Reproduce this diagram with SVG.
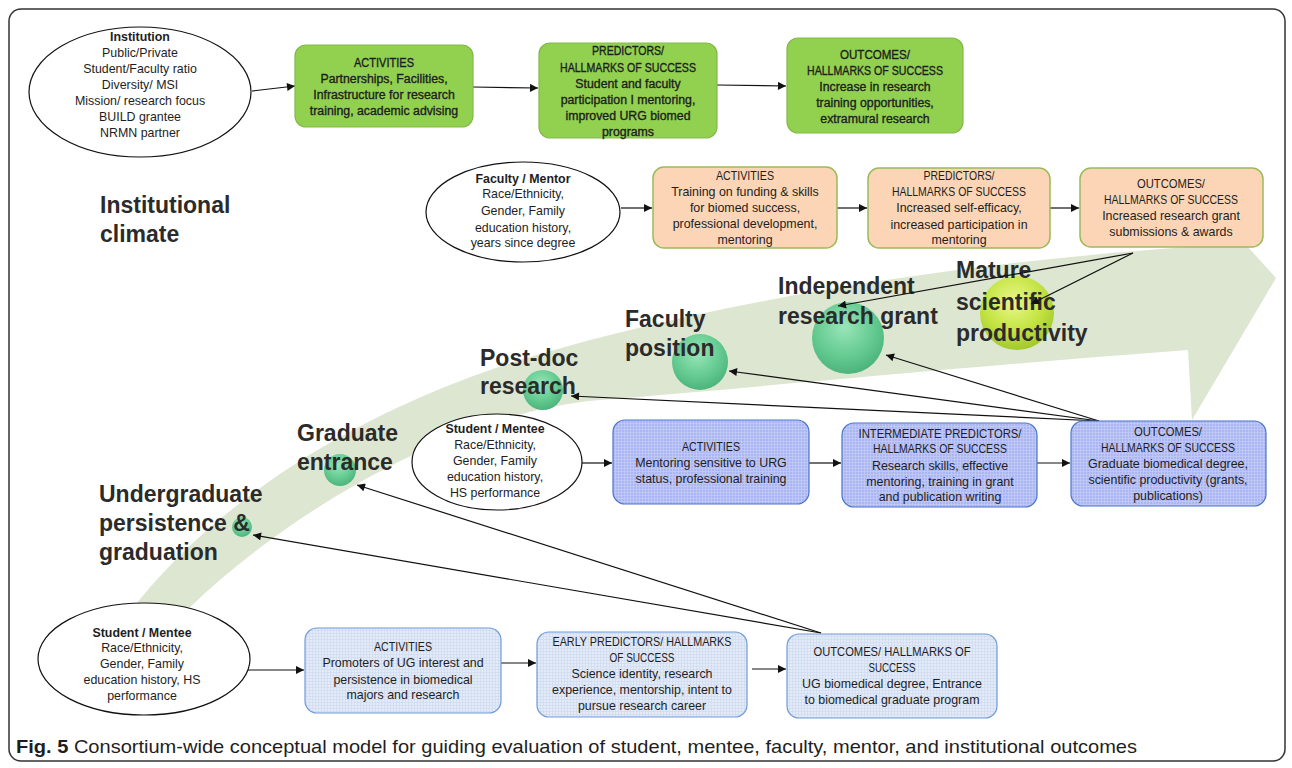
<svg xmlns="http://www.w3.org/2000/svg" width="1292" height="768" viewBox="0 0 1292 768">
<style>
text{font-family:"Liberation Sans",Arial,sans-serif;fill:#1e1e1e;}
.t{font-size:12.4px;text-anchor:middle;}
.g{font-size:12.3px;text-anchor:middle;stroke:#1e1e1e;stroke-width:0.35;}
.b{font-weight:bold;}
.big{font-size:23px;font-weight:bold;fill:#2b2b2b;}
.ell{fill:#fff;stroke:#111;stroke-width:1.2;}
.gr{fill:#92d050;stroke:#84b94a;stroke-width:1.2;}
.or{fill:#fbd5b5;stroke:#9bbb59;stroke-width:1.5;}
.bm{fill:url(#pm);stroke:#4a76c9;stroke-width:1.2;}
.bl{fill:url(#pl);stroke:#6f9bd9;stroke-width:1.2;}
.c{stroke:#111;stroke-width:1.2;fill:none;marker-end:url(#ah);}
</style>
<defs>
<marker id="ah" viewBox="0 0 10 10" refX="10" refY="5" markerWidth="9" markerHeight="8" markerUnits="userSpaceOnUse" orient="auto">
<path d="M0,0 L10,5 L0,10 z" fill="#111"/>
</marker>
<pattern id="pm" width="3" height="3" patternUnits="userSpaceOnUse">
<rect width="3" height="3" fill="#aab5f3"/>
<path d="M0,0.5 H3 M0.5,0 V3" stroke="#c3caf6" stroke-width="0.8"/>
</pattern>
<pattern id="pl" width="3" height="3" patternUnits="userSpaceOnUse">
<rect width="3" height="3" fill="#e3eaf8"/>
<path d="M0,0.5 H3 M0.5,0 V3" stroke="#d2dcf0" stroke-width="0.8"/>
</pattern>
<radialGradient id="sg" cx="45%" cy="35%" r="65%">
<stop offset="0" stop-color="#9ae5b8"/>
<stop offset="0.6" stop-color="#66cc92"/>
<stop offset="1" stop-color="#4cb47c"/>
</radialGradient>
<radialGradient id="sy" cx="45%" cy="35%" r="65%">
<stop offset="0" stop-color="#e8f88a"/>
<stop offset="0.6" stop-color="#c4e443"/>
<stop offset="1" stop-color="#a3c92c"/>
</radialGradient>
</defs>
<rect x="9" y="9" width="1276" height="752" rx="12" fill="#fff" stroke="#333" stroke-width="1.5"/>

<g id="band">
<path d="M130,612 C200,520 330,420 520,360 C700,305 950,262 1205,246 L1210,205 L1276,278 L1192,420 L1188,350 C950,368 750,388 600,400 C470,410 300,500 185,612 Z" fill="#dde6d1"/>
</g>

<g id="stages">
<circle cx="242" cy="527" r="10" fill="url(#sg)"/>
<circle cx="340" cy="470" r="16" fill="url(#sg)"/>
<circle cx="543" cy="390" r="20" fill="url(#sg)"/>
<circle cx="700" cy="362" r="28" fill="url(#sg)"/>
<circle cx="848" cy="338" r="36" fill="url(#sg)"/>
<circle cx="1017" cy="313" r="37" fill="url(#sy)"/>
<text class="big" x="99" y="502">Undergraduate</text>
<text class="big" x="99" y="531">persistence &amp;</text>
<text class="big" x="99" y="560">graduation</text>
<text class="big" x="297" y="441">Graduate</text>
<text class="big" x="297" y="470">entrance</text>
<text class="big" x="480" y="366">Post-doc</text>
<text class="big" x="480" y="394">research</text>
<text class="big" x="625" y="327">Faculty</text>
<text class="big" x="625" y="356">position</text>
<text class="big" x="778" y="294">Independent</text>
<text class="big" x="778" y="324">research grant</text>
<text class="big" x="956" y="278">Mature</text>
<text class="big" x="956" y="310">scientific</text>
<text class="big" x="956" y="341">productivity</text>
<text class="big" x="100" y="213">Institutional</text>
<text class="big" x="100" y="242">climate</text>
</g>

<g id="connectors">
<line class="c" x1="252" y1="91" x2="295" y2="86"/>
<line class="c" x1="473" y1="87" x2="538" y2="88"/>
<line class="c" x1="717" y1="85" x2="786" y2="86"/>
<line class="c" x1="621" y1="208" x2="652" y2="208"/>
<line class="c" x1="837" y1="208" x2="867" y2="208"/>
<line class="c" x1="1050" y1="208" x2="1079" y2="208"/>
<line class="c" x1="1133" y1="253" x2="838" y2="306"/>
<line class="c" x1="1133" y1="253" x2="1031" y2="304"/>
<line class="c" x1="582" y1="463" x2="612" y2="463"/>
<line class="c" x1="809" y1="463" x2="841" y2="463"/>
<line class="c" x1="1037" y1="463" x2="1070" y2="463"/>
<line class="c" x1="1099" y1="421" x2="886" y2="355"/>
<line class="c" x1="1099" y1="421" x2="729" y2="371"/>
<line class="c" x1="1099" y1="421" x2="571" y2="396"/>
<line class="c" x1="247" y1="670" x2="304" y2="670"/>
<line class="c" x1="501" y1="663" x2="536" y2="663"/>
<line class="c" x1="752" y1="669" x2="786" y2="669"/>
<line class="c" x1="821" y1="633" x2="357" y2="485"/>
<line class="c" x1="821" y1="633" x2="253" y2="535"/>
</g>

<g id="institution">
<ellipse class="ell" cx="140" cy="92" rx="111" ry="65"/>
<text class="t b" x="140" y="41">Institution</text>
<text class="t" x="140" y="57">Public/Private</text>
<text class="t" x="140" y="73">Student/Faculty ratio</text>
<text class="t" x="140" y="89">Diversity/ MSI</text>
<text class="t" x="140" y="105">Mission/ research focus</text>
<text class="t" x="140" y="121">BUILD grantee</text>
<text class="t" x="140" y="137">NRMN partner</text>
</g>
<g id="inst-activities">
<rect class="gr" x="295" y="45" width="178" height="82" rx="11"/>
<text class="g" x="384" y="67" textLength="60" lengthAdjust="spacingAndGlyphs">ACTIVITIES</text>
<text class="g" x="384" y="83">Partnerships, Facilities,</text>
<text class="g" x="384" y="99">Infrastructure for research</text>
<text class="g" x="384" y="115">training, academic advising</text>
</g>
<g id="inst-predictors">
<rect class="gr" x="539" y="43" width="178" height="95" rx="11"/>
<text class="g" x="628" y="55" textLength="72" lengthAdjust="spacingAndGlyphs">PREDICTORS/</text>
<text class="g" x="628" y="72" textLength="136" lengthAdjust="spacingAndGlyphs">HALLMARKS OF SUCCESS</text>
<text class="g" x="628" y="88">Student and faculty</text>
<text class="g" x="628" y="104">participation I mentoring,</text>
<text class="g" x="628" y="120">improved URG biomed</text>
<text class="g" x="628" y="136">programs</text>
</g>
<g id="inst-outcomes">
<rect class="gr" x="787" y="38" width="176" height="95" rx="11"/>
<text class="g" x="875" y="59" textLength="70" lengthAdjust="spacingAndGlyphs">OUTCOMES/</text>
<text class="g" x="875" y="75" textLength="136" lengthAdjust="spacingAndGlyphs">HALLMARKS OF SUCCESS</text>
<text class="g" x="875" y="91">Increase in research</text>
<text class="g" x="875" y="107">training opportunities,</text>
<text class="g" x="875" y="123">extramural research</text>
</g>

<g id="faculty">
<ellipse class="ell" cx="523" cy="212" rx="97" ry="50"/>
<text class="t b" x="523" y="183">Faculty / Mentor</text>
<text class="t" x="523" y="198">Race/Ethnicity,</text>
<text class="t" x="523" y="215">Gender, Family</text>
<text class="t" x="523" y="232">education history,</text>
<text class="t" x="523" y="247">years since degree</text>
</g>
<g id="fac-activities">
<rect class="or" x="653" y="167" width="184" height="81" rx="11"/>
<text class="t" x="745" y="180" textLength="58" lengthAdjust="spacingAndGlyphs">ACTIVITIES</text>
<text class="t" x="745" y="196">Training on funding &amp; skills</text>
<text class="t" x="745" y="212">for biomed success,</text>
<text class="t" x="745" y="228">professional development,</text>
<text class="t" x="745" y="244">mentoring</text>
</g>
<g id="fac-predictors">
<rect class="or" x="868" y="168" width="182" height="80" rx="11"/>
<text class="t" x="959" y="180" textLength="71" lengthAdjust="spacingAndGlyphs">PREDICTORS/</text>
<text class="t" x="959" y="196" textLength="134" lengthAdjust="spacingAndGlyphs">HALLMARKS OF SUCCESS</text>
<text class="t" x="959" y="212">Increased self-efficacy,</text>
<text class="t" x="959" y="229">increased participation in</text>
<text class="t" x="959" y="244">mentoring</text>
</g>
<g id="fac-outcomes">
<rect class="or" x="1080" y="168" width="183" height="79" rx="11"/>
<text class="t" x="1171" y="188" textLength="68" lengthAdjust="spacingAndGlyphs">OUTCOMES/</text>
<text class="t" x="1171" y="204" textLength="134" lengthAdjust="spacingAndGlyphs">HALLMARKS OF SUCCESS</text>
<text class="t" x="1171" y="220">Increased research grant</text>
<text class="t" x="1171" y="236">submissions &amp; awards</text>
</g>

<g id="grad-student">
<ellipse class="ell" cx="497" cy="462" rx="85" ry="48"/>
<text class="t b" x="495" y="433">Student / Mentee</text>
<text class="t" x="495" y="449">Race/Ethnicity,</text>
<text class="t" x="495" y="465">Gender, Family</text>
<text class="t" x="495" y="481">education history,</text>
<text class="t" x="495" y="497">HS performance</text>
</g>
<g id="grad-activities">
<rect class="bm" x="613" y="420" width="196" height="84" rx="12"/>
<text class="t" x="711" y="451" textLength="58" lengthAdjust="spacingAndGlyphs">ACTIVITIES</text>
<text class="t" x="711" y="467">Mentoring sensitive to URG</text>
<text class="t" x="711" y="483">status, professional training</text>
</g>
<g id="grad-predictors">
<rect class="bm" x="842" y="423" width="195" height="84" rx="12"/>
<text class="t" x="940" y="438" textLength="163" lengthAdjust="spacingAndGlyphs">INTERMEDIATE PREDICTORS/</text>
<text class="t" x="940" y="453" textLength="134" lengthAdjust="spacingAndGlyphs">HALLMARKS OF SUCCESS</text>
<text class="t" x="940" y="470">Research skills, effective</text>
<text class="t" x="940" y="486">mentoring, training in grant</text>
<text class="t" x="940" y="501">and publication writing</text>
</g>
<g id="grad-outcomes">
<rect class="bm" x="1071" y="421" width="195" height="85" rx="12"/>
<text class="t" x="1168" y="436" textLength="68" lengthAdjust="spacingAndGlyphs">OUTCOMES/</text>
<text class="t" x="1168" y="452" textLength="134" lengthAdjust="spacingAndGlyphs">HALLMARKS OF SUCCESS</text>
<text class="t" x="1168" y="468">Graduate biomedical degree,</text>
<text class="t" x="1168" y="484">scientific productivity (grants,</text>
<text class="t" x="1168" y="500">publications)</text>
</g>

<g id="ug-student">
<ellipse class="ell" cx="144" cy="659" rx="106" ry="56"/>
<text class="t b" x="142" y="637">Student / Mentee</text>
<text class="t" x="142" y="652">Race/Ethnicity,</text>
<text class="t" x="142" y="668">Gender, Family</text>
<text class="t" x="142" y="684">education history, HS</text>
<text class="t" x="142" y="700">performance</text>
</g>
<g id="ug-activities">
<rect class="bl" x="305" y="628" width="196" height="85" rx="12"/>
<text class="t" x="403" y="651" textLength="58" lengthAdjust="spacingAndGlyphs">ACTIVITIES</text>
<text class="t" x="403" y="667">Promoters of UG interest and</text>
<text class="t" x="403" y="684">persistence in biomedical</text>
<text class="t" x="403" y="699">majors and research</text>
</g>
<g id="ug-predictors">
<rect class="bl" x="537" y="632" width="210" height="85" rx="12"/>
<text class="t" x="642" y="646" textLength="179" lengthAdjust="spacingAndGlyphs">EARLY PREDICTORS/ HALLMARKS</text>
<text class="t" x="642" y="662" textLength="65" lengthAdjust="spacingAndGlyphs">OF SUCCESS</text>
<text class="t" x="642" y="678">Science identity, research</text>
<text class="t" x="642" y="694">experience, mentorship, intent to</text>
<text class="t" x="642" y="710">pursue research career</text>
</g>
<g id="ug-outcomes">
<rect class="bl" x="787" y="634" width="210" height="84" rx="12"/>
<text class="t" x="892" y="656" textLength="157" lengthAdjust="spacingAndGlyphs">OUTCOMES/ HALLMARKS OF</text>
<text class="t" x="892" y="672" textLength="47" lengthAdjust="spacingAndGlyphs">SUCCESS</text>
<text class="t" x="892" y="688">UG biomedical degree, Entrance</text>
<text class="t" x="892" y="704">to biomedical graduate program</text>
</g>

<text x="16" y="753" font-size="18.5" fill="#231f20" textLength="1121" lengthAdjust="spacingAndGlyphs"><tspan font-weight="bold">Fig. 5</tspan> Consortium-wide conceptual model for guiding evaluation of student, mentee, faculty, mentor, and institutional outcomes</text>
</svg>
